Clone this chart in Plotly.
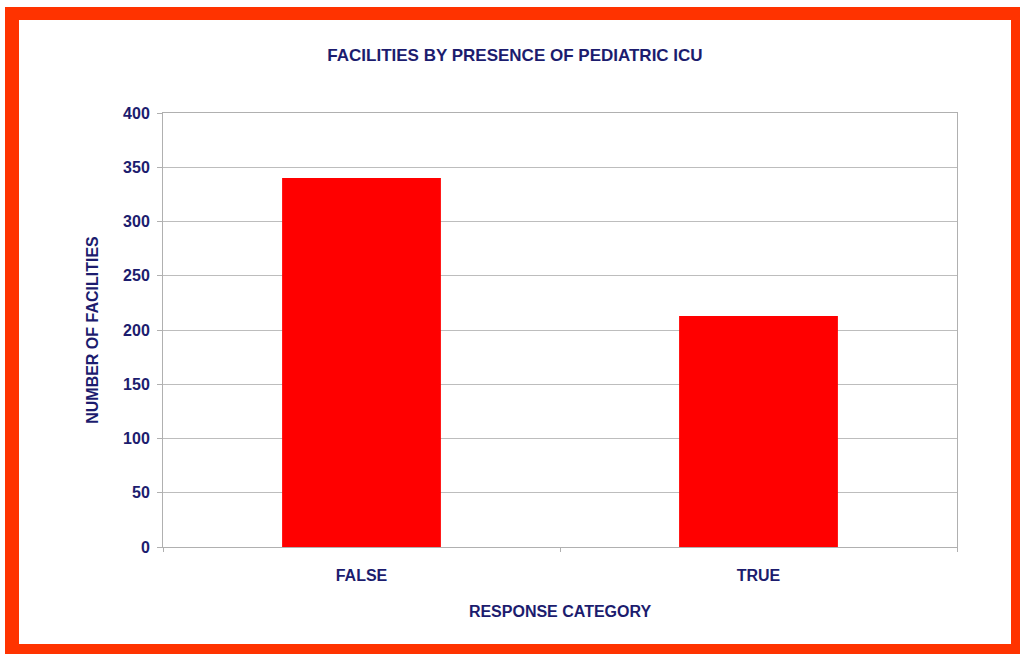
import plotly.graph_objects as go

categories = ["FALSE", "TRUE"]
counts = [340, 213]
y_ticks = [0, 50, 100, 150, 200, 250, 300, 350, 400]

W, H = 1020, 654
L, R, T, B = 163, 957, 113, 547  # plot area pixels

def px(x):
    return (x - L) / (R - L)

def py(y):
    return (B - y) / (B - T)

navy = "#1c1c6e"
font_family = "Liberation Sans Narrow, Arial Narrow, sans-serif"

fig = go.Figure(go.Bar(
    x=categories, y=counts, marker=dict(color="#ff0000", line=dict(width=0)),
    width=0.4,
))

border = "#ff3300"
shapes = []
for (x0, y0, x1, y1) in [(5, 7, 1020, 20), (5, 644, 1020, 654), (5, 7, 19, 654), (1011, 7, 1020, 654)]:
    shapes.append(dict(type="rect", xref="paper", yref="paper",
                       x0=px(x0), x1=px(x1), y0=py(y1), y1=py(y0),
                       fillcolor=border, line=dict(width=0), layer="above"))

fig.update_layout(
    width=W, height=H,
    margin=dict(l=L, r=W - R, t=T, b=H - B, pad=0),
    paper_bgcolor="white", plot_bgcolor="white",
    showlegend=False,
    shapes=shapes,
    title=dict(text="FACILITIES BY PRESENCE OF PEDIATRIC ICU",
               x=px(515), xref="paper", xanchor="center",
               y=1 - 55 / H, yanchor="middle",
               font=dict(family=font_family, size=17, color=navy, weight="bold")),
    font=dict(family=font_family, color=navy, weight="bold"),
)
fig.update_xaxes(
    showline=True, linecolor="#b0b0b0", linewidth=1, mirror=True,
    ticks="outside", tickson="boundaries", ticklen=4, tickcolor="#b0b0b0",
    tickfont=dict(size=16, color=navy, family=font_family, weight="bold"),
    ticklabelstandoff=14,
    title=dict(text="RESPONSE CATEGORY", standoff=22,
               font=dict(size=16, color=navy, family=font_family, weight="bold")),
    range=[-0.5, 1.5],
)
fig.update_yaxes(
    range=[0, 400], tickvals=y_ticks,
    showline=True, linecolor="#b0b0b0", linewidth=1, mirror=True,
    showgrid=True, gridcolor="#bdbdbd", gridwidth=1,
    ticks="outside", ticklen=5, tickcolor="#b0b0b0",
    tickfont=dict(size=16, color=navy, family=font_family, weight="bold"),
    ticklabelstandoff=4,
    title=dict(text="NUMBER OF FACILITIES", standoff=20,
               font=dict(size=16, color=navy, family=font_family, weight="bold")),
    zeroline=False,
)

fig.write_html("out.html", config={"displayModeBar": False},
               post_script="document.body.style.margin='0';document.body.style.overflow='hidden';")
